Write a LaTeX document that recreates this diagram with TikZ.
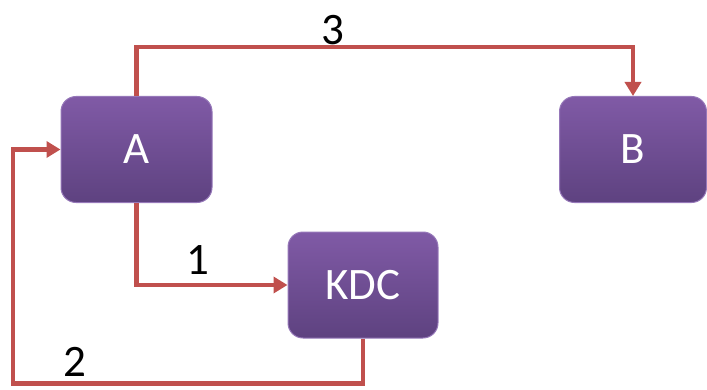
\documentclass[tikz,border=0pt]{standalone}
\usepackage{fontspec}
\setmainfont{Carlito}
\usetikzlibrary{positioning, arrows.meta}

\definecolor{boxtop}{RGB}{128,90,166}
\definecolor{boxbot}{RGB}{94,66,128}
\definecolor{boxrim}{RGB}{150,120,185}
\definecolor{linered}{RGB}{192,80,77}

\tikzset{
    party/.style={draw=boxrim, line width=1pt, rounded corners=15pt, top color=boxtop, bottom color=boxbot, text=white, font=\fontsize{45}{45}\selectfont, minimum height=106pt, inner sep=0pt},
    flow/.style={linered, line width=4.5pt, -{Triangle[length=14pt, width=16pt]}},
    num/.style={font=\fontsize{45}{45}\selectfont}
}

\begin{document}
\begin{tikzpicture}[x=1pt, y=1pt]
    \useasboundingbox (0, 0) rectangle (707, 389);
    \node (A) [party, minimum width=151pt] at (136.5, 239.5) {A};
    \node (B) [party, minimum width=147pt] at (633, 239.5) {B};
    \node (KDC) [party, minimum width=150pt] at (363, 104) {KDC};

    \coordinate (top) at (136.5, 342);
    \coordinate (low) at (363, 5.5);
    \coordinate (left) at (13, 5.5);

    \draw [flow] (A.north) -- (top) -| (B.north);
    \draw [flow] (A.south) |- (KDC.west);
    \draw [flow] (KDC.south) -- (low) -- (left) |- (A.west);

    \node (n3) [num] at (333, 359) {3};
    \node (n1) [num] at (198, 129) {1};
    \node (n2) [num] at (75, 27) {2};
\end{tikzpicture}
\end{document}
